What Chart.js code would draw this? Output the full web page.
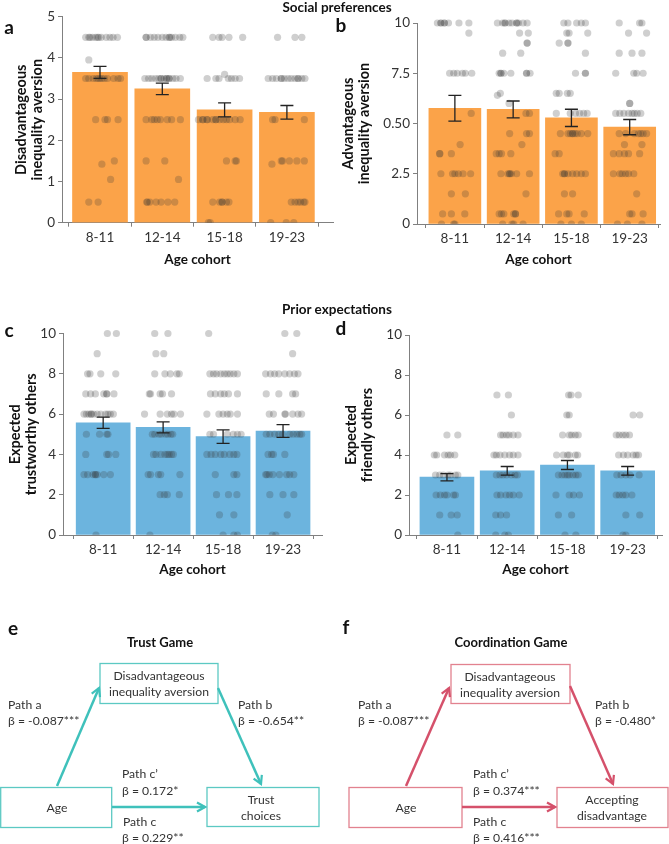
<!DOCTYPE html>
<html>
<head>
<meta charset="utf-8">
<script src="https://cdn.jsdelivr.net/npm/chart.js@4.4.1/dist/chart.umd.min.js"></script>
<style>
  body { margin: 0; background: #fff; width: 669px; height: 844px; position: relative; overflow: hidden; font-family: Lato, sans-serif; }
  canvas { position: absolute; }
  svg { position: absolute; left: 0; top: 0; pointer-events: none; }
</style>
</head>
<body>
<canvas id="chartA" width="340" height="275" style="left:0;top:0"></canvas>
<canvas id="chartB" width="334" height="275" style="left:335px;top:0"></canvas>
<canvas id="chartC" width="335" height="295" style="left:0;top:290px"></canvas>
<canvas id="chartD" width="334" height="295" style="left:335px;top:290px"></canvas>

<svg width="669" height="844" font-family="Lato, sans-serif">
  <defs>
    <marker id="headTeal" viewBox="0 0 12 12" refX="10" refY="6" markerWidth="12" markerHeight="12" markerUnits="userSpaceOnUse" orient="auto">
      <path d="M2,1.5 L10,6 L2,10.5" fill="none" stroke="#3fc1bb" stroke-width="2.2"/>
    </marker>
    <marker id="headRed" viewBox="0 0 12 12" refX="10" refY="6" markerWidth="12" markerHeight="12" markerUnits="userSpaceOnUse" orient="auto">
      <path d="M2,1.5 L10,6 L2,10.5" fill="none" stroke="#d5516b" stroke-width="2.2"/>
    </marker>
  </defs>

  <!-- section titles and panel letters -->
  <g font-weight="bold" fill="#111">
    <text x="337" y="7" font-size="13.5" text-anchor="middle" dominant-baseline="central">Social preferences</text>
    <text x="337" y="309" font-size="13.5" text-anchor="middle" dominant-baseline="central">Prior expectations</text>
    <g font-size="19" text-anchor="middle" dominant-baseline="central">
      <text x="9" y="26">a</text>
      <text x="341" y="24">b</text>
      <text x="9" y="329">c</text>
      <text x="341" y="327">d</text>
      <text x="13" y="627">e</text>
      <text x="346" y="626">f</text>
    </g>
  </g>

  <!-- e: Trust Game -->
  <g font-size="12.2" fill="#333">
    <text x="160" y="642" font-size="13" font-weight="bold" fill="#111" text-anchor="middle" dominant-baseline="central">Trust Game</text>
    <g fill="none" stroke="#5cc9c3" stroke-width="1.3">
      <rect x="100" y="663.5" width="118" height="40"/>
      <rect x="0.7" y="787.5" width="111" height="40"/>
      <rect x="207" y="787.5" width="112" height="39"/>
    </g>
    <g stroke="#3fc1bb" stroke-width="2.5" fill="none">
      <line x1="57" y1="786" x2="99" y2="688" marker-end="url(#headTeal)"/>
      <line x1="218" y1="688" x2="261" y2="784" marker-end="url(#headTeal)"/>
      <line x1="112" y1="807" x2="205" y2="807" marker-end="url(#headTeal)"/>
    </g>
    <g text-anchor="middle" dominant-baseline="central">
      <text x="159" y="675">Disadvantageous</text>
      <text x="159" y="691">inequality aversion</text>
      <text x="57" y="807">Age</text>
      <text x="261" y="799">Trust</text>
      <text x="261" y="815">choices</text>
    </g>
    <g dominant-baseline="central">
      <text x="8" y="704">Path a</text>
      <text x="8" y="720">β = -0.087***</text>
      <text x="238" y="704">Path b</text>
      <text x="238" y="720">β = -0.654**</text>
      <text x="122" y="773">Path c’</text>
      <text x="122" y="790">β = 0.172*</text>
      <text x="123" y="821">Path c</text>
      <text x="122" y="837">β = 0.229**</text>
    </g>
  </g>

  <!-- f: Coordination Game -->
  <g font-size="12.2" fill="#333">
    <text x="511" y="642" font-size="13" font-weight="bold" fill="#111" text-anchor="middle" dominant-baseline="central">Coordination Game</text>
    <g fill="none" stroke="#e2828f" stroke-width="1.3">
      <rect x="451" y="664.5" width="119" height="39"/>
      <rect x="349" y="787.5" width="113" height="40"/>
      <rect x="557" y="787.5" width="111" height="40"/>
    </g>
    <g stroke="#d5516b" stroke-width="2.5" fill="none">
      <line x1="406" y1="786" x2="449" y2="688" marker-end="url(#headRed)"/>
      <line x1="570" y1="686" x2="613" y2="784" marker-end="url(#headRed)"/>
      <line x1="462" y1="807" x2="555" y2="807" marker-end="url(#headRed)"/>
    </g>
    <g text-anchor="middle" dominant-baseline="central">
      <text x="510" y="676">Disadvantageous</text>
      <text x="510" y="692">inequality aversion</text>
      <text x="406" y="807">Age</text>
      <text x="612" y="799">Accepting</text>
      <text x="612" y="815">disadvantage</text>
    </g>
    <g dominant-baseline="central">
      <text x="358" y="704">Path a</text>
      <text x="358" y="720">β = -0.087***</text>
      <text x="595" y="704">Path b</text>
      <text x="595" y="720">β = -0.480*</text>
      <text x="473" y="773">Path c’</text>
      <text x="473" y="790">β = 0.374***</text>
      <text x="473" y="821">Path c</text>
      <text x="473" y="837">β = 0.416***</text>
    </g>
  </g>
</svg>

<script>
// categories
const ageCohorts = ["8-11", "12-14", "15-18", "19-23"];

// bar means and standard errors
const disadvMeans = [3.65, 3.25, 2.74, 2.68];
const disadvErr = [0.145, 0.14, 0.17, 0.165];
const advMeans = [5.76, 5.70, 5.28, 4.82];
const advErr = [0.64, 0.42, 0.43, 0.38];
const trustMeans = [5.57, 5.34, 4.88, 5.16];
const trustErr = [0.28, 0.275, 0.335, 0.32];
const friendMeans = [2.89, 3.21, 3.50, 3.21];
const friendErr = [0.18, 0.215, 0.225, 0.215];

// y tick values / labels
const disadvTicks = [0, 1, 2, 3, 4, 5];
const disadvTickLabels = ["0", "1", "2", "3", "4", "5"];
const advTicks = [0, 2.5, 5, 7.5, 10];
const advTickLabels = ["0", "2.5", "0.50", "7.5", "10"];
const expTicks = [0, 2, 4, 6, 8, 10];
const expTickLabels = ["0", "2", "4", "6", "8", "10"];

// individual responses: per cohort, rows of [value, [horizontal jitter ...]]
const disadvDots = [
  [[4.5, [-0.23, -0.18, -0.16, -0.12, -0.07, -0.04, -0.02, 0.02, 0.10, 0.16, 0.21, 0.28]], [3.95, [-0.18]],
   [3.5, [-0.23, -0.18, -0.11, -0.06, -0.03, 0, 0.03, 0.07, 0.12, 0.22, 0.29, 0.33]],
   [2.5, [-0.07, 0.08, 0.12, 0.29]], [1.5, [0.23]], [1.42, [0.03]], [1.05, [0.17]], [0.5, [-0.18, -0.03]]],
  [[4.5, [-0.26, -0.26, -0.19, -0.13, -0.07, 0, 0.06, 0.11, 0.12, 0.15, 0.21, 0.28, 0.33]],
   [3.5, [-0.28, -0.22, -0.17, -0.11, -0.06, -0.02, -0.02, 0.03, 0.07, 0.07, 0.11, 0.11, 0.17, 0.22, 0.29]],
   [2.5, [-0.26, -0.17, -0.13, -0.08, -0.03, 0.08, 0.15, 0.29]], [1.5, [-0.26, 0.04]], [1.05, [0.26]],
   [0.5, [-0.25, -0.24, -0.2, -0.1, -0.02, 0.09, 0.2]]],
  [[4.5, [-0.19, -0.09, -0.04, 0.07, 0.29]], [3.6, [0]],
   [3.5, [-0.28, -0.14, -0.09, 0.06, 0.11, 0.17, 0.24]],
   [2.5, [-0.42, -0.35, -0.35, -0.28, -0.28, -0.19, -0.14, -0.14, -0.08, -0.02, 0.03, 0.08, 0.17, 0.25]],
   [1.5, [0.03, 0.17, 0.19]], [0.5, [-0.19, -0.08, -0.04, -0.04, 0.03, 0.07]], [0, [-0.26, -0.23]]],
  [[4.5, [-0.15, 0.13, 0.24]],
   [3.5, [-0.30, -0.23, -0.17, -0.09, -0.09, -0.04, 0.02, 0.07, 0.13, 0.18, 0.18, 0.24, 0.29]],
   [2.5, [-0.23, -0.19, 0.28]], [1.5, [-0.09, -0.07, 0.04, 0.16, 0.28]], [1.42, [-0.24]],
   [0.5, [0.07, 0.13, 0.18, 0.22, 0.27, 0.29]], [0, [-0.26, -0.01, 0.11]]]
];
const advDots = [
  [[10, [-0.30, -0.24, -0.24, -0.18, -0.18, -0.11, 0.07, 0.24]], [9.5, [0.24]],
   [7.5, [-0.09, -0.02, 0.04, 0.13, 0.18, 0.29]], [5.5, [0.28]], [3.95, [0.09]], [3.5, [-0.26, -0.26, -0.06]],
   [2.5, [-0.24, -0.04, 0, 0.06, 0.14, 0.27]], [1.5, [-0.06, 0.18]], [0.5, [-0.21, -0.06, 0.17]], [0, [-0.23, -0.02, 0]]],
  [[10, [-0.27, -0.18, -0.14, -0.14, -0.07, -0.02, 0.06, 0.06, 0.09, 0.17, 0.24]], [9.5, [0.11, 0.26]], [9, [0.24, 0.24]],
   [8.5, [-0.18, 0.13]], [7.5, [-0.24, -0.21, -0.21, -0.16, -0.04, 0.23, 0.23, 0.29]], [6.5, [-0.22]], [6.4, [-0.27]],
   [6, [-0.07]], [5.5, [0.22, 0.28]], [4.5, [-0.06, 0.23, 0.28]], [3.95, [0.15]], [3.5, [-0.29, -0.24, -0.2, -0.04]],
   [2.5, [-0.21, -0.09, -0.06, -0.06, -0.03, 0.06, 0.28]], [1.5, [0.22]], [0.5, [-0.24, -0.2, -0.16, 0.01, 0.04, 0.04]],
   [0, [-0.18, -0.02, 0.01, 0.17]]],
  [[10, [-0.13, -0.06, 0.09, 0.17, 0.24]], [9.5, [-0.08, -0.04, 0.28]], [9, [-0.21, -0.06, -0.06]], [8.5, [0.24]],
   [7.5, [0.07, 0.24, 0.24]], [6.5, [-0.26, -0.21, -0.07, -0.02]], [5.5, [-0.26, -0.02, 0.07, 0.14, 0.21, 0.27]],
   [4.5, [-0.19, -0.06, -0.02, 0.02, 0.02, 0.06, 0.1, 0.17, 0.28]], [3.5, [-0.28, -0.21]],
   [2.5, [-0.15, -0.12, -0.12, -0.06, 0.02, 0.09, 0.17, 0.24]], [1.5, [-0.12, 0.02]], [0.5, [-0.22, -0.08, -0.04, 0.22]],
   [0, [-0.18, 0, 0.17]]],
  [[10, [-0.18, 0.17, 0.21]], [9.5, [-0.02, 0.29]], [8.5, [-0.18, 0.04, 0.21]], [7.5, [-0.24, 0.07, 0.12, 0.23]],
   [6, [0, 0]], [5.5, [-0.24, -0.17, -0.1, -0.02, 0.04, 0.08, 0.13, 0.19]], [4.5, [-0.18, -0.07, 0.08, 0.15, 0.19, 0.23, 0.29]],
   [3.95, [-0.09, 0.21]], [3.5, [-0.28, -0.18, -0.09, -0.02, 0.17]], [2.5, [-0.28, -0.17, -0.13, -0.07, -0.02, 0.07]],
   [1.5, [0.12]], [0.5, [0, 0.04, 0.23]], [0, [-0.21, -0.04, 0.21]]]
];
const trustDots = [
  [[10, [0.07, 0.22]], [9, [-0.10]], [8, [-0.26, -0.22, -0.04, 0.21]], [7, [-0.29, -0.21, -0.13, 0.01, 0.06, 0.06, 0.18]],
   [6, [-0.32, -0.28, -0.24, -0.2, -0.2, -0.16, -0.1, -0.04, 0.04, 0.08, 0.12, 0.17]], [5, [-0.28, -0.06, 0.06, 0.08]],
   [4, [-0.29, 0.06, 0.09, 0.21]], [3, [-0.32, -0.26, -0.17, -0.13, -0.13, -0.1, 0.01, 0.12]], [0, [-0.12]]],
  [[10, [-0.14, 0.08]], [9, [-0.12, 0.01]], [8, [-0.14, 0.03, 0.12, 0.23, 0.27]], [7, [-0.23, -0.21, -0.05, -0.01, 0.14]],
   [6, [-0.31, -0.05, 0.07, 0.14, 0.18, 0.29]], [5, [-0.18, -0.14, -0.07, -0.03, 0.04, 0.08, 0.13, 0.16]],
   [4, [-0.16, -0.12, -0.04, 0.03, 0.07, 0.1, 0.14, 0.17]], [3, [-0.25, -0.21, -0.08, -0.04, 0.28]],
   [2, [-0.05, 0.02, 0.07, 0.27]], [0, [-0.22]]],
  [[10, [-0.24]], [8, [-0.22, -0.16, -0.11, -0.04, 0.02, 0.07, 0.12, 0.18, 0.24]], [7, [-0.21, -0.13, -0.04, 0.02, 0.09, 0.24]],
   [6, [-0.27, -0.07, 0, 0.07, 0.12, 0.24]], [5, [-0.22, -0.16, 0.07, 0.17, 0.24, 0.3]],
   [4, [-0.27, -0.2, -0.13, -0.04, 0.02, 0.11, 0.18, 0.23]], [3, [-0.13, 0.18, 0.23]], [2, [-0.11, 0.09, 0.23]],
   [1, [-0.06, 0.18]], [0, [0, 0.18, 0.24]]],
  [[10, [0.03, 0.23]], [9, [0.16]], [8, [-0.29, -0.21, -0.14, -0.07, 0.03, 0.11, 0.19, 0.25]], [7, [-0.28, -0.07, 0.16, 0.21]],
   [6, [-0.23, -0.16, 0.03, 0.04, 0.16, 0.25, 0.31]], [5, [-0.28, -0.22, -0.14, -0.07, -0.01, 0.11, 0.17, 0.23, 0.28, 0.31]],
   [4, [-0.25, -0.19, -0.16, 0.03]], [3, [-0.29, -0.27, -0.23, -0.17, -0.06, 0.06, 0.11, 0.18]], [2, [-0.22, 0, 0.18]],
   [1, [0.07]], [0, [-0.18, -0.12]]]
];
const friendDots = [
  [[5, [0, 0.18]], [4, [-0.21, -0.17, -0.04, 0.02, 0.06, 0.13]], [3, [-0.19, -0.12, -0.06, 0.02, 0.06, 0.14, 0.18]],
   [2, [-0.18, -0.11, -0.04, 0, 0.11, 0.14]], [1, [-0.12, 0.07, 0.17]], [0, [0.18]]],
  [[7, [-0.17, 0.02]], [6, [0.07]], [5, [-0.11, -0.07, -0.01, 0.03, 0.1, 0.18]], [4, [-0.22, -0.18, -0.12, -0.04, 0.04, 0.1, 0.18]],
   [3, [-0.18, -0.12, -0.07, -0.01, 0.07, 0.13, 0.17]], [2, [-0.17, -0.11, -0.02, 0.04, 0.1, 0.2]], [1, [-0.19, -0.11, -0.01]],
   [0, [-0.19, -0.04, 0.02]]],
  [[7, [0.02, 0.06, 0.18]], [6, [-0.01, 0.03]], [5, [-0.08, 0.03, 0.07, 0.13, 0.18]], [4, [-0.18, -0.07, 0, 0.03, 0.13, 0.17]],
   [3, [-0.15, -0.09, -0.04, 0, 0.03, 0.09, 0.14, 0.18]], [2, [-0.19, 0.03, 0.1, 0.2]], [1, [-0.15, 0.07]], [0, [-0.04, 0.14]]],
  [[6, [0.09, 0.2]], [5, [-0.19, -0.14, -0.08, -0.03, 0.03]], [4, [-0.15, -0.07, 0, 0.09, 0.14, 0.18]],
   [3, [-0.18, -0.11, -0.03, 0.04, 0.19]], [2, [-0.19, -0.14, -0.08, -0.03, 0.07]], [1, [-0.03, 0.2]], [0, [-0.08, -0.03]]]
];

const ORANGE = "#fba349";
const BLUE = "#6cb4de";
const AXIS = "#808080";

// error bars drawn over the bars and dots
const errorBars = {
  id: "errorBars",
  afterDatasetsDraw(chart, args, opts) {
    const { ctx, scales: { x, y } } = chart;
    ctx.save();
    ctx.strokeStyle = "#222";
    ctx.lineWidth = 1.3;
    opts.means.forEach((m, i) => {
      const px = x.getPixelForValue(i);
      const top = y.getPixelForValue(m + opts.errs[i]);
      const bot = y.getPixelForValue(m - opts.errs[i]);
      ctx.beginPath();
      ctx.moveTo(px, top); ctx.lineTo(px, bot);
      ctx.moveTo(px - 6.5, top); ctx.lineTo(px + 6.5, top);
      ctx.moveTo(px - 6.5, bot); ctx.lineTo(px + 6.5, bot);
      ctx.stroke();
    });
    ctx.restore();
  }
};

function makePanel(id, p) {
  const bars = p.means.map((v, i) => ({ x: i, y: v }));
  const dots = [];
  p.dots.forEach((rows, i) => rows.forEach(([v, offs]) => offs.forEach(dx => dots.push({ x: i + dx, y: v }))));

  return new Chart(document.getElementById(id), {
    type: "bar",
    data: {
      datasets: [
        { type: "bar", data: bars, backgroundColor: p.color, barThickness: p.barW, order: 2 },
        {
          type: "scatter", data: dots, backgroundColor: "rgba(55,55,55,0.24)", borderWidth: 0,
          pointRadius: 3.6, order: 1, clip: { left: false, right: false, top: false, bottom: 0 }
        }
      ]
    },
    options: {
      responsive: false,
      animation: false,
      layout: { padding: { top: p.padTop, right: p.padRight, left: 0, bottom: 0 } },
      plugins: {
        legend: { display: false },
        tooltip: { enabled: false },
        errorBars: { means: p.means, errs: p.errs }
      },
      scales: {
        x: {
          type: "linear", min: p.xMin, max: p.xMax, offset: false,
          afterBuildTicks: s => { s.ticks = ageCohorts.map((_, i) => ({ value: i })); },
          afterFit: s => { s.height = p.xH; },
          ticks: {
            callback: v => ageCohorts[v], color: "#333", autoSkip: false, maxRotation: 0, padding: 3,
            font: { family: "Lato", size: 13.5 }
          },
          grid: { drawOnChartArea: false, drawTicks: true, tickLength: 4, color: AXIS },
          border: { color: AXIS, width: 1 },
          title: {
            display: true, text: "Age cohort", color: "#111",
            font: { family: "Lato", size: 13.5, weight: "bold" }, padding: { top: 0, bottom: 7 }
          }
        },
        y: {
          min: 0, max: p.ticks[p.ticks.length - 1],
          afterBuildTicks: s => { s.ticks = p.ticks.map(v => ({ value: v })); },
          afterFit: s => { s.width = p.yW; },
          ticks: {
            callback: v => p.tickLabels[p.ticks.indexOf(v)], color: "#333", padding: 3,
            font: { family: "Lato", size: 13.5 }
          },
          grid: { drawOnChartArea: false, drawTicks: true, tickLength: 4, color: AXIS },
          border: { color: AXIS, width: 1 },
          title: {
            display: true, text: p.yTitle, color: "#111",
            font: { family: "Lato", size: 14.5, weight: "bold", lineHeight: 1.15 },
            padding: { top: p.titlePad, bottom: 0 }
          }
        }
      }
    },
    plugins: [errorBars]
  });
}

makePanel("chartA", {
  means: disadvMeans, errs: disadvErr, dots: disadvDots, color: ORANGE,
  ticks: disadvTicks, tickLabels: disadvTickLabels,
  yTitle: ["Disadvantageous", "inequality aversion"],
  xMin: -0.61, xMax: 3.74, barW: 55, yW: 62, xH: 52.3, padTop: 16.7, padRight: 7, titlePad: 12.5
});
makePanel("chartB", {
  means: advMeans, errs: advErr, dots: advDots, color: ORANGE,
  ticks: advTicks, tickLabels: advTickLabels,
  yTitle: ["Advantageous", "inequality aversion"],
  xMin: -0.65, xMax: 3.52, barW: 52, yW: 82, xH: 51, padTop: 23, padRight: 9, titlePad: 4.5
});
makePanel("chartC", {
  means: trustMeans, errs: trustErr, dots: trustDots, color: BLUE,
  ticks: expTicks, tickLabels: expTickLabels,
  yTitle: ["Expected", "trustworthy others"],
  xMin: -0.67, xMax: 3.65, barW: 54, yW: 63, xH: 50, padTop: 43.5, padRight: 13, titlePad: 6.5
});
makePanel("chartD", {
  means: friendMeans, errs: friendErr, dots: friendDots, color: BLUE,
  ticks: expTicks, tickLabels: expTickLabels,
  yTitle: ["Expected", "friendly others"],
  xMin: -0.63, xMax: 3.57, barW: 54, yW: 74, xH: 50, padTop: 45, padRight: 7, titlePad: 7.5
});
</script>
</body>
</html>
